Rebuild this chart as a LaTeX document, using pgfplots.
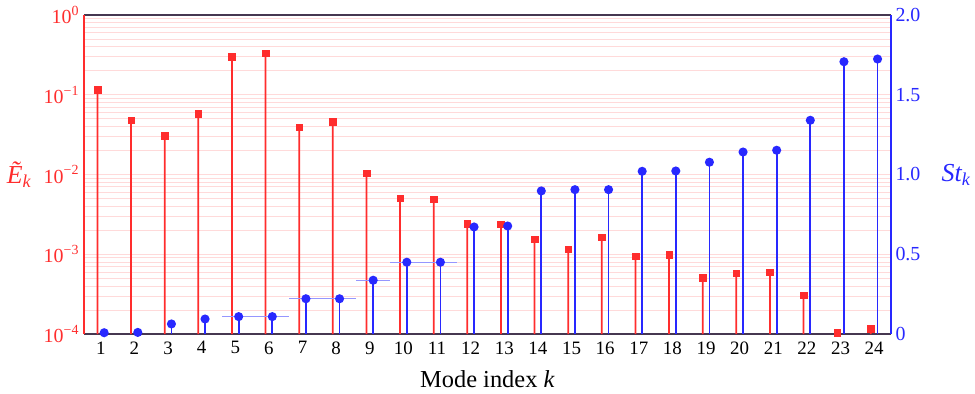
\documentclass[border=0pt]{standalone}
\usepackage{pgfplots}
\pgfplotsset{compat=1.18}
\usepackage{pgfplotstable}
\usepackage{fontspec}
\setmainfont{Liberation Serif}
\definecolor{myred}{RGB}{255,45,45}
\definecolor{myblue}{RGB}{40,40,255}
\definecolor{gridred}{RGB}{255,218,218}
\definecolor{framec}{RGB}{70,55,80}
\definecolor{errblue}{RGB}{150,150,255}
\newcommand{\tenp}[1]{10\raisebox{0.42em}{\fontsize{14}{14}\selectfont #1}}

\pgfplotstableread{
k E
1 0.115
2 0.048
3 0.0307
4 0.058
5 0.30
6 0.33
7 0.039
8 0.046
9 0.0104
10 0.00507
11 0.0049
12 0.00242
13 0.00239
14 0.00154
15 0.00116
16 0.00163
17 0.00095
18 0.00098
19 0.000504
20 0.000577
21 0.000593
22 0.000305
23 0.000104
24 0.000116
}\Etable

\pgfplotstableread{
k St
1 0.008
2 0.01
3 0.063
4 0.094
5 0.109
6 0.109
7 0.221
8 0.221
9 0.337
10 0.45
11 0.45
12 0.671
13 0.677
14 0.897
15 0.905
16 0.905
17 1.020
18 1.022
19 1.077
20 1.141
21 1.152
22 1.340
23 1.707
24 1.724
}\Sttable

\pgfplotstableread{
k St
5 0.109
6 0.109
7 0.221
8 0.221
9 0.337
10 0.45
11 0.45
}\Errtable

\begin{document}
\begin{tikzpicture}
\path[use as bounding box] (-84bp,-60bp) rectangle (891bp,334bp);
\begin{axis}[
  at={(0,0)}, anchor=south west,
  scale only axis, width=807bp, height=319bp,
  xmin=0.5, xmax=24.5,
  ymode=log, ymin=1e-4, ymax=1,
  log origin y=infty,
  axis x line=box, axis y line*=left,
  x axis line style={framec, line width=1.2bp, -},
  y axis line style={myred, line width=1.2bp, -},
  xtick={1,...,24},
  xticklabel pos=lower,
  /pgf/number format/assume math mode=true,
  xticklabel style={font=\fontsize{19}{22}\selectfont, black, yshift=-4bp},
  ytick={1e-4,1e-3,1e-2,1e-1,1},
  yticklabels={\tenp{−4},\tenp{−3},\tenp{−2},\tenp{−1},\tenp{0}},
  yticklabel style={font=\fontsize{20}{23}\selectfont, myred, xshift=-2bp},
  major tick length=0pt, minor tick length=0pt,
  ymajorgrids, yminorgrids,
  major grid style={gridred, line width=0.8bp},
  minor grid style={gridred, line width=0.8bp},
  xlabel={Mode index \textit{k}},
  every axis x label/.style={at={(rel axis cs:0.5,0)}, anchor=center, yshift=-45bp, font=\fontsize{24.5}{28}\selectfont, text=black},
  ylabel={\itshape Ẽ\textsubscript{k}},
  every axis y label/.style={at={(rel axis cs:0,0.5)}, anchor=center, xshift=-65bp, font=\fontsize{26}{30}\selectfont, text=myred},
  clip=false,
]
\addplot[ybar, bar width=1.8bp, bar shift=0pt, fill=myred, draw=none]
  table[x expr=\thisrow{k}-0.1, y=E] {\Etable};
\addplot[only marks, mark=square*, mark size=3.3bp, mark options={fill=myred, draw=myred}]
  table[x expr=\thisrow{k}-0.1, y=E] {\Etable};
\end{axis}
\begin{axis}[
  at={(0,0)}, anchor=south west,
  scale only axis, width=807bp, height=319bp,
  xmin=0.5, xmax=24.5,
  ymin=0, ymax=2,
  axis x line=none, axis y line*=right,
  y axis line style={myblue, line width=1.2bp, -},
  ytick={0,0.5,1,1.5,2},
  yticklabels={0,0.5,1.0,1.5,2.0},
  yticklabel style={font=\fontsize{20}{23}\selectfont, myblue, xshift=1bp},
  major tick length=0pt,
  ylabel={\itshape St\textsubscript{k}},
  every axis y label/.style={at={(rel axis cs:1,0.5)}, anchor=center, xshift=65bp, font=\fontsize{26}{30}\selectfont, text=myblue},
  clip=false,
]
\addplot[draw=none, mark=none, forget plot,
  error bars/.cd, x dir=both, x fixed=0.5, error mark=none,
  error bar style={errblue, line width=1.2bp}]
  table[x expr=\thisrow{k}+0.1, y=St] {\Errtable};
\addplot[ycomb, myblue, line width=1.8bp, mark=*, mark size=3.6bp, mark options={fill=myblue, draw=myblue}]
  table[x expr=\thisrow{k}+0.1, y=St] {\Sttable};
\end{axis}
\end{tikzpicture}
\end{document}
